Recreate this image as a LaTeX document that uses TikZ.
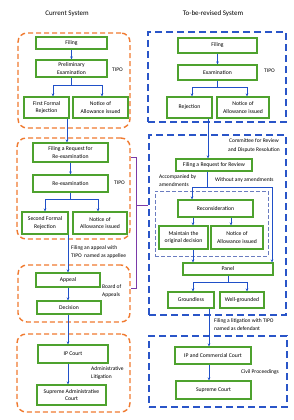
\documentclass[tikz,border=0pt]{standalone}
\usepackage{fontspec}
\setmainfont{Carlito}
\usetikzlibrary{arrows.meta,calc}
\definecolor{gbox}{HTML}{4EA22E}
\definecolor{obord}{HTML}{F07A30}
\definecolor{bbord}{HTML}{2A55C8}
\definecolor{ibord}{HTML}{6A7CC0}
\definecolor{aline}{HTML}{2050C8}
\definecolor{pline}{HTML}{7A3AA8}
\begin{document}
\begin{tikzpicture}[x=1pt,y=-1pt,
  box/.style={draw=gbox,line width=1.2pt,fill=white,align=center,inner sep=0pt,
    font=\fontsize{5.7}{7.5}\selectfont},
  obox/.style={draw=obord,line width=1.4pt,dash pattern=on 5pt off 3pt,rounded corners=9pt,inner sep=0pt},
  bbox/.style={draw=bbord,line width=1.4pt,dash pattern=on 7pt off 4pt,inner sep=0pt},
  ibox/.style={draw=ibord,line width=0.8pt,dash pattern=on 4pt off 2pt,inner sep=0pt},
  arr/.style={draw=aline,line width=0.9pt,-{Stealth[length=3pt,width=2.6pt]}},
  ln/.style={draw=aline,line width=0.9pt},
  plk/.style={draw=pline,line width=0.9pt},
  lbl/.style={inner sep=0pt,align=left,font=\fontsize{5.5}{8.5}\selectfont},
  ttl/.style={inner sep=0pt,font=\fontsize{7}{8}\selectfont}]
\useasboundingbox (0,0) rectangle (293,420);

% titles
\node[ttl] (t1) at (67,14) {Current System};
\node[ttl] (t2) at (213,14) {To-be-revised System};

% outer frames
\node[obox,minimum width=112pt,minimum height=95pt] (ob1) at (74,80.5) {};
\node[obox,minimum width=113pt,minimum height=101pt] (ob2) at (73.5,188.5) {};
\node[obox,minimum width=112pt,minimum height=57pt] (ob3) at (74,293.5) {};
\node[obox,minimum width=113pt,minimum height=78pt] (ob4) at (73.5,373) {};
\node[bbox,minimum width=138pt,minimum height=90pt] (bb1) at (217,77) {};
\node[bbox,minimum width=137pt,minimum height=180pt] (bb2) at (217.5,225) {};
\node[bbox,minimum width=138pt,minimum height=71pt] (bb3) at (218,371.5) {};
\node[ibox,minimum width=113pt,minimum height=65pt] (ib) at (211.5,223.5) {};

% left column boxes
\node[box,minimum width=71pt,minimum height=12pt] (filing1) at (71.5,43) {Filing};
\node[box,minimum width=71pt,minimum height=17pt] (prelim) at (71.5,68.5) {Preliminary\\Examination};
\node[box,minimum width=45pt,minimum height=21pt] (rej1) at (46.5,107.5) {First Formal\\Rejection};
\node[box,minimum width=55pt,minimum height=21pt] (allow1) at (100.5,107.5) {Notice of\\Allowance issued};
\node[box,minimum width=75pt,minimum height=19pt] (freq) at (70.5,152.5) {Filing a Request for\\Re-examination};
\node[box,minimum width=75pt,minimum height=17pt] (reexam) at (70.5,183.5) {Re-examination};
\node[box,minimum width=46pt,minimum height=22pt] (rej2) at (45,223) {Second Formal\\Rejection};
\node[box,minimum width=54pt,minimum height=22pt] (allow2) at (100,223) {Notice of\\Allowance issued};
\node[box,minimum width=64pt,minimum height=14pt] (appeal) at (68,280) {Appeal};
\node[box,minimum width=64pt,minimum height=13pt] (decision) at (69,307.5) {Decision};
\node[box,minimum width=70pt,minimum height=18pt] (ipcourt) at (73,354) {IP Court};
\node[box,minimum width=69pt,minimum height=20pt] (sac) at (71.5,395) {Supreme Administrative\\Court};

% right column boxes
\node[box,minimum width=79pt,minimum height=15pt] (filing2) at (217.5,45.5) {Filing};
\node[box,minimum width=79pt,minimum height=15pt] (exam) at (217.5,72.5) {Examination};
\node[box,minimum width=45pt,minimum height=21pt] (rejn) at (189.5,107.5) {Rejection};
\node[box,minimum width=52pt,minimum height=21pt] (allown) at (243,107.5) {Notice of\\Allowance issued};
\node[box,minimum width=76pt,minimum height=12pt] (freview) at (214,165) {Filing a Request for Review};
\node[box,minimum width=75pt,minimum height=17pt] (recon) at (215.5,208.5) {Reconsideration};
\node[box,minimum width=49pt,minimum height=23pt] (maintain) at (183.5,237.5) {Maintain the\\original decision};
\node[box,minimum width=52pt,minimum height=23pt] (allown2) at (237,237.5) {Notice of\\Allowance issued};
\node[box,minimum width=90pt,minimum height=12pt] (panel) at (228,269) {Panel};
\node[box,minimum width=46pt,minimum height=16pt] (groundless) at (191,300) {Groundless};
\node[box,minimum width=44pt,minimum height=16pt] (well) at (242,300) {Well-grounded};
\node[box,minimum width=76pt,minimum height=17pt] (ipcc) at (213,355.5) {IP and Commercial Court};
\node[box,minimum width=75pt,minimum height=18pt] (supreme) at (213.5,390) {Supreme Court};

% labels
\node[lbl,anchor=west] (tipo1) at (112,70) {TIPO};
\node[lbl,anchor=west] (tipo2) at (264,71) {TIPO};
\node[lbl,anchor=west] (tipo3) at (114,183) {TIPO};
\node[lbl,anchor=north west] (lapp) at (71,245) {Filing an appeal with\\TIPO\ \ named as appellee};
\node[lbl,anchor=north west] (lboa) at (102,284) {Board of\\Appeals};
\node[lbl,anchor=north west] (ladm) at (91,366) {Administrative\\Litigation};
\node[lbl,anchor=north,align=center] (lcom) at (254,139) {Committee for Review\\and Dispute Resolution};
\node[lbl,anchor=north west] (lacc) at (159,174) {Accompanied by\\amendments};
\node[lbl,anchor=west] (lwo) at (215,180) {Without any amendments};
\node[lbl,anchor=north west] (llit) at (214,318) {Filing a litigation with TIPO\\named as defendant};
\node[lbl] (lciv) at (260,372) {Civil Proceedings};

% helper x positions
\coordinate (x53) at (53,0);
\coordinate (x102) at (102,0);
\coordinate (x67) at (67,0);
\coordinate (x45) at (45,0);
\coordinate (x98) at (98,0);
\coordinate (x68) at (68,0);
\coordinate (x192) at (192,0);
\coordinate (x247) at (247,0);
\coordinate (x208) at (208,0);
\coordinate (x207) at (207,0);
\coordinate (x273) at (272,0);
\coordinate (x193) at (193,0);
\coordinate (x231) at (231,0);
\coordinate (x209) at (209,0);
\coordinate (x136) at (136,0);
\coordinate (y85) at (0,85);
\coordinate (y199) at (0,199);
\coordinate (y87) at (0,87);
\coordinate (y187) at (0,187);
\coordinate (y282) at (0,282);
\coordinate (y157) at (0,157);
\coordinate (y205) at (0,205);
\coordinate (y288) at (0,288);

% left connectors
\draw[arr] (filing1) -- (prelim);
\draw[ln] (prelim.south) -- (prelim.south |- y85);
\draw[ln] (x53 |- y85) -- (x102 |- y85);
\draw[arr] (x53 |- y85) -- (x53 |- rej1.north);
\draw[arr] (x102 |- y85) -- (x102 |- allow1.north);
\draw[arr] (x67 |- rej1.south) -- (x67 |- freq.north);
\draw[arr] (freq) -- (reexam);
\draw[ln] (reexam.south) -- (reexam.south |- y199);
\draw[ln] (x45 |- y199) -- (x98 |- y199);
\draw[arr] (x45 |- y199) -- (x45 |- rej2.north);
\draw[arr] (x98 |- y199) -- (x98 |- allow2.north);
\draw[arr] (x68 |- rej2.south) -- (x68 |- appeal.north);
\draw[arr] (x68 |- appeal.south) -- (x68 |- decision.north);
\draw[arr] (x68 |- decision.south) -- (x68 |- ipcourt.north);
\draw[arr] (x68 |- ipcourt.south) -- (x68 |- sac.north);

% right connectors
\draw[arr] (filing2) -- (exam);
\draw[ln] (exam.south) -- (exam.south |- y87);
\draw[ln] (x192 |- y87) -- (x247 |- y87);
\draw[arr] (x192 |- y87) -- (x192 |- rejn.north);
\draw[arr] (x247 |- y87) -- (x247 |- allown.north);
\draw[arr] (x208 |- rejn.south) -- (x208 |- freview.north);
\draw[ln] (x207 |- freview.south) -- (x207 |- y187);
\draw[ln] (x192 |- y187) -- (x273 |- y187);
\draw[arr] (x192 |- y187) -- (x192 |- recon.north);
\draw[arr] (x273 |- y187) -- (x273 |- panel.north);
\draw[arr] (x193 |- recon.south) -- (x193 |- maintain.north);
\draw[arr] (x231 |- recon.south) -- (x231 |- allown2.north);
\draw[arr] (x193 |- maintain.south) -- (x193 |- panel.north);
\draw[ln] (panel.south) -- (panel.south |- y282);
\draw[ln] (x193 |- y282) -- (x247 |- y282);
\draw[arr] (x193 |- y282) -- (x193 |- groundless.north);
\draw[arr] (x247 |- y282) -- (x247 |- well.north);
\draw[arr] (x209 |- groundless.south) -- (x209 |- ipcc.north);
\draw[arr] (x209 |- ipcc.south) -- (x209 |- supreme.north);

% purple bracket
\draw[plk] (ob2.east |- y157) -- (x136 |- y157) -- (x136 |- y288) -- (ob3.east |- y288);
\draw[plk] (x136 |- y205) -- (bb2.west |- y205);
\end{tikzpicture}
\end{document}
